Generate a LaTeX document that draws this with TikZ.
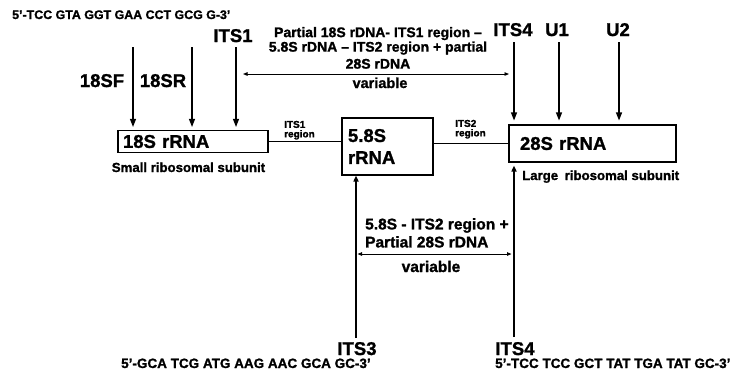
\documentclass[tikz,border=0pt]{standalone}
\usepackage{fontspec}
\setmainfont[BoldFeatures={FakeBold=1.3}]{Liberation Sans}
\usetikzlibrary{arrows.meta}
\begin{document}
\begin{tikzpicture}[x=1pt,y=-1pt,
  big/.style={font=\fontsize{18.5}{22}\selectfont\bfseries, inner sep=0pt},
  seq/.style={font=\fontsize{12.4}{14}\selectfont\bfseries, inner sep=0pt},
  bseq/.style={font=\fontsize{13.5}{16}\selectfont\bfseries, inner sep=0pt},
  sub/.style={font=\fontsize{13.2}{16}\selectfont\bfseries, inner sep=0pt},
  note/.style={font=\fontsize{14}{14.5}\selectfont\bfseries, inner sep=0pt, align=center},
  bnote/.style={font=\fontsize{15.5}{18}\selectfont\bfseries, inner sep=0pt, align=left},
  varl/.style={font=\fontsize{14.5}{16}\selectfont\bfseries, inner sep=0pt},
  small/.style={font=\fontsize{10}{9.5}\selectfont\bfseries, inner sep=0pt, align=left},
  rbox/.style={draw, line width=1.1pt, font=\fontsize{18.5}{22}\selectfont\bfseries, align=left, inner ysep=2pt},
  down/.style={-{Triangle[length=8pt,width=6pt]}, line width=1.1pt, shorten >=3pt},
  up/.style={-{Triangle[length=6pt,width=5pt]}, line width=1.8pt},
  span/.style={{Triangle[length=4.5pt,width=3.5pt]}-{Triangle[length=4.5pt,width=3.5pt]}, line width=0.9pt},
  link/.style={line width=1.1pt}]
\useasboundingbox (0,0) rectangle (739,376);

% boxes
\node[rbox, minimum width=150pt, minimum height=22pt, inner xsep=5pt, text width=140pt] (r18) at (193,141.5) {18S rRNA};
\node[rbox, minimum width=91pt, minimum height=57pt, inner xsep=6pt, text width=79pt] (r58) at (387.5,146.5) {5.8S\\rRNA};
\node[rbox, minimum width=167pt, minimum height=37pt, inner xsep=11pt, text width=145pt] (r28) at (592.5,143.5) {28S rRNA};

% links between boxes
\draw[link] (r18.east) -- (r18.east -| r58.west);
\draw[link] (r58.east |- r28.west) -- (r28.west);
\node[small, anchor=north west] (its1reg) at (284,120.7) {ITS1\\region};
\node[small, anchor=north west] (its2reg) at (455,119.7) {ITS2\\region};

% subunit labels
\node[sub, anchor=base] (smalls) at (188.5,172) {Small ribosomal subunit};
\node[sub, anchor=base west] (larges) at (522,180) {Large\enspace ribosomal subunit};

% top sequence and labels
\node[seq, anchor=base west] (seqtop) at (12,19) {5'-TCC GTA GGT GAA CCT GCG G-3'};
\node[big, anchor=base] (lits1) at (233,42) {ITS1};
\node[big, anchor=base] (l18sf) at (102,87) {18SF};
\node[big, anchor=base] (l18sr) at (163,87) {18SR};
\node[big, anchor=base] (lits4t) at (513,36) {ITS4};
\node[big, anchor=base] (lu1) at (557,36) {U1};
\node[big, anchor=base] (lu2) at (618,36) {U2};

% top arrows
\coordinate (sfTop) at (133,47);
\coordinate (srTop) at (192,47);
\coordinate (i1Top) at (236,47);
\coordinate (i4Top) at (514,42);
\coordinate (u1Top) at (559,42);
\coordinate (u2Top) at (619,42);
\draw[down] (sfTop) -- (sfTop |- r18.north);
\draw[down] (srTop) -- (srTop |- r18.north);
\draw[down] (i1Top) -- (i1Top |- r18.north);
\draw[down, shorten >=4pt] (i4Top) -- (i4Top |- r28.north);
\draw[down, shorten >=4pt] (u1Top) -- (u1Top |- r28.north);
\draw[down, shorten >=4pt] (u2Top) -- (u2Top |- r28.north);

% top span
\coordinate (va) at (0,74);
\draw[span, shorten <=7pt, shorten >=5pt] (i1Top |- va) -- (i4Top |- va);
\node[note, anchor=north] (notetop) at (378,26.8) {Partial 18S rDNA- ITS1 region --\\5.8S rDNA -- ITS2 region + partial\\[2.5pt]28S rDNA};
\node[varl, anchor=base] (vartop) at (380,88) {variable};

% bottom arrows
\coordinate (i3Bot) at (356,338);
\coordinate (i4Bot) at (514,337);
\draw[up] (i3Bot) -- (i3Bot |- r58.south);
\draw[up, shorten >=3pt] (i4Bot) -- (i4Bot |- r28.south);
\coordinate (vb) at (0,254);
\draw[span, shorten <=1.5pt, shorten >=2.5pt] (i3Bot |- vb) -- (i4Bot |- vb);
\node[bnote, anchor=north west] (notebot) at (365,218) {5.8S - ITS2 region +\\Partial 28S rDNA};
\node[varl, font=\fontsize{15.5}{16}\selectfont\bfseries, anchor=base] (varbot) at (431,272) {variable};

% bottom labels and sequences
\node[big, anchor=base] (lits3) at (357,355) {ITS3};
\node[big, anchor=base] (lits4b) at (515,355) {ITS4};
\node[bseq, anchor=base west] (seqits3) at (121,368) {5'-GCA TCG ATG AAG AAC GCA GC-3'};
\node[bseq, anchor=base west] (seqits4) at (495,368) {5'-TCC TCC GCT TAT TGA TAT GC-3'};
\end{tikzpicture}
\end{document}
